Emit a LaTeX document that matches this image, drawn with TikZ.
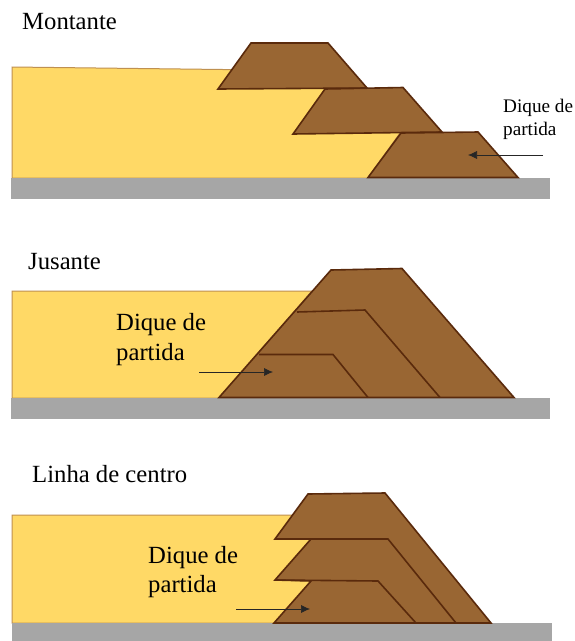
\documentclass[tikz,border=0pt]{standalone}
\usepackage{fontspec}
\setmainfont{Liberation Serif}
\usetikzlibrary{arrows.meta}
\definecolor{sandy}{HTML}{FFD966}
\definecolor{earth}{HTML}{996633}
\definecolor{edge}{HTML}{5A2A0C}
\definecolor{rock}{HTML}{A6A6A6}
\definecolor{tan}{HTML}{BF9050}
\tikzset{
  sand/.style={fill=sandy,draw=tan,line width=1pt,line join=miter},
  base/.style={fill=rock,draw=none},
  dike/.style={fill=earth,draw=edge,line width=1.6pt,line join=miter},
  seam/.style={draw=edge,line width=1.6pt},
  pointer/.style={draw=black!85,line width=.6pt,-{Latex[length=9pt,width=8pt]}},
  lab/.style={anchor=base west,inner sep=0pt,font=\fontsize{24.7}{28}\selectfont},
  labsmall/.style={anchor=base west,inner sep=0pt,font=\fontsize{19.2}{23}\selectfont}
}
\begin{document}
\begin{tikzpicture}[x=1pt,y=-1pt]
\useasboundingbox (0,0) rectangle (574,641);
\fill[white] (0,0) rectangle (574,641);
% Montante
\draw[sand] (12,178) -- (12,67) -- (240,69.7) -- (330,88) -- (400,133) -- (368,178) -- cycle;
\fill[base] (11,178) rectangle (550,199);
\draw[dike] (251,43) -- (328,43) -- (367,88) -- (218,89) -- cycle;
\draw[dike] (325,89) -- (403,87.5) -- (442,132) -- (293,134) -- cycle;
\draw[dike] (401,133) -- (478,132) -- (518,177.5) -- (368,177.5) -- cycle;
\node[lab] (t1) at (22,29) {Montante};
\node[labsmall] (d1a) at (503,112) {Dique de};
\node[labsmall] (d1b) at (503,135) {partida};
\coordinate (a1s) at (543,155);
\coordinate (a1e) at (468,155);
\draw[pointer] (a1s) -- (a1e);
% Jusante
\draw[sand] (12,398) -- (12,291) -- (312,291) -- (219,398) -- cycle;
\fill[base] (11,398) rectangle (550,419);
\draw[dike] (219,397.5) -- (331,270) -- (402,268.5) -- (514,397.5) -- cycle;
\draw[seam] (297,312) -- (365,310) -- (440,397.5);
\draw[seam] (259,354.5) -- (333,354.5) -- (368,397.5);
\node[lab] (t2) at (28,269) {Jusante};
\node[lab] (d2a) at (116,330) {Dique de};
\node[lab] (d2b) at (116,360) {partida};
\coordinate (a2s) at (199,372);
\coordinate (a2e) at (273,372);
\draw[pointer] (a2s) -- (a2e);
% Linha de centro
\draw[sand] (12,623) -- (12,515) -- (292.5,515) -- (320,540) -- (320,581) -- (274,623) -- cycle;
\fill[base] (12,623) rectangle (552,641);
\draw[dike] (274,623) -- (311,581) -- (275,580) -- (311,539) -- (275,539) -- (308,494) -- (385,493) -- (491,623) -- cycle;
\draw[seam] (275,539) -- (388,539) -- (456,623);
\draw[seam] (275,580) -- (378,581) -- (416,623);
\node[lab] (t3) at (32,482) {Linha de centro};
\node[lab] (d3a) at (148,563) {Dique de};
\node[lab] (d3b) at (148,592) {partida};
\coordinate (a3s) at (236,609);
\coordinate (a3e) at (310,609);
\draw[pointer] (a3s) -- (a3e);
\end{tikzpicture}
\end{document}
